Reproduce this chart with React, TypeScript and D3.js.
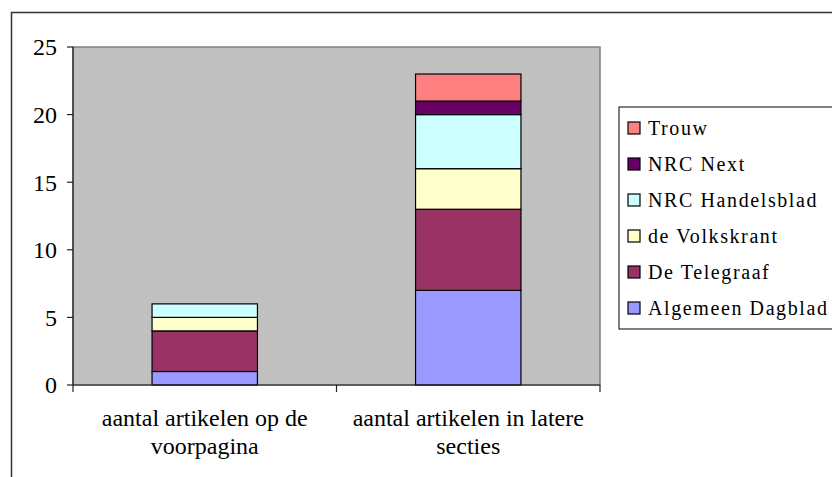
import React from "react";
import * as d3 from "d3";

const categories = ["aantal artikelen op de voorpagina", "aantal artikelen in latere secties"];
const categoryLines = [["aantal artikelen op de", "voorpagina"], ["aantal artikelen in latere", "secties"]];
const seriesNames = ["Algemeen Dagblad", "De Telegraaf", "de Volkskrant", "NRC Handelsblad", "NRC Next", "Trouw"];
const seriesColors = ["#9999FF", "#993366", "#FFFFCC", "#CCFFFF", "#660066", "#FF8080"];
const algemeen = [1, 7];
const telegraaf = [3, 6];
const volkskrant = [1, 3];
const handelsblad = [1, 4];
const nrcNext = [0, 1];
const trouw = [0, 2];
const yTicks = [0, 5, 10, 15, 20, 25];

const seriesValues = [algemeen, telegraaf, volkskrant, handelsblad, nrcNext, trouw];

export default function App() {
  const W = 832, H = 477;
  const left = 73, right = 600, top = 47, bottom = 385;
  const font = "Liberation Serif, Times New Roman, Times, DejaVu Serif, serif";

  const x = d3.scaleBand().domain(categories).range([left, right]).paddingInner(0.6).paddingOuter(0.3);
  const xOuter = d3.scaleBand().domain(categories).range([left, right]);
  const y = d3.scaleLinear().domain([0, 25]).range([bottom, top]);

  const table = categories.map((c, i) => {
    const row: any = { cat: c };
    seriesNames.forEach((s, j) => (row[s] = seriesValues[j][i]));
    return row;
  });
  const stacked = d3.stack().keys(seriesNames)(table);

  const legendX = 619, legendY = 107, rowH = 36;

  return (
    <svg width={W} height={H} style={{ position: "absolute", left: 0, top: 0, fontFamily: font }}>
      <rect x={0} y={0} width={W} height={H} fill="#fff" />
      <rect x={11.5} y={12.5} width={W} height={H} fill="none" stroke="#333" strokeWidth={1.5} />
      <rect x={left} y={top} width={right - left} height={bottom - top} fill="#C0C0C0" stroke="#808080" strokeWidth={1.5} />
      {stacked.map((layer, j) =>
        layer.map((d, i) =>
          d[1] - d[0] > 0 ? (
            <rect
              key={`${j}-${i}`}
              x={x(categories[i])!}
              y={y(d[1])}
              width={x.bandwidth()}
              height={y(d[0]) - y(d[1])}
              fill={seriesColors[j]}
              stroke="#000"
              strokeWidth={1.2}
            />
          ) : null
        )
      )}
      <line x1={left} x2={left} y1={top} y2={bottom} stroke="#222" strokeWidth={1.2} />
      <line x1={left} x2={right} y1={bottom} y2={bottom} stroke="#222" strokeWidth={1.2} />
      {yTicks.map((t) => (
        <g key={t}>
          <line x1={left - 6} x2={left} y1={y(t)} y2={y(t)} stroke="#222" strokeWidth={1.2} />
          <text x={57} y={y(t)} dy="0.35em" textAnchor="end" style={{ fontFamily: font }} fontSize={24} fill="#000">
            {t}
          </text>
        </g>
      ))}
      {[left, ...categories.map((c) => xOuter(c)! + xOuter.bandwidth())].map((px, i) => (
        <line key={i} x1={px} x2={px} y1={bottom} y2={bottom + 7} stroke="#222" strokeWidth={1.2} />
      ))}
      {categories.map((c, i) => (
        <text key={c} x={xOuter(c)! + xOuter.bandwidth() / 2} y={426} textAnchor="middle" style={{ fontFamily: font }} fontSize={24} fill="#000">
          {categoryLines[i].map((l, k) => (
            <tspan key={k} x={xOuter(c)! + xOuter.bandwidth() / 2} dy={k === 0 ? 0 : 28}>
              {l}
            </tspan>
          ))}
        </text>
      ))}
      <rect x={legendX} y={legendY} width={W} height={6 * rowH + 6} fill="#fff" stroke="#000" strokeWidth={1} />
      {seriesNames
        .map((s, j) => ({ s, j }))
        .reverse()
        .map(({ s, j }, r) => {
          const cy = legendY + 21 + r * rowH;
          return (
            <g key={s}>
              <rect x={628} y={cy - 6} width={12} height={12} fill={seriesColors[j]} stroke="#000" strokeWidth={1.2} />
              <text x={648} y={cy} dy="0.35em" style={{ fontFamily: font }} fontSize={20} letterSpacing={1.6} fill="#000">
                {s}
              </text>
            </g>
          );
        })}
    </svg>
  );
}
